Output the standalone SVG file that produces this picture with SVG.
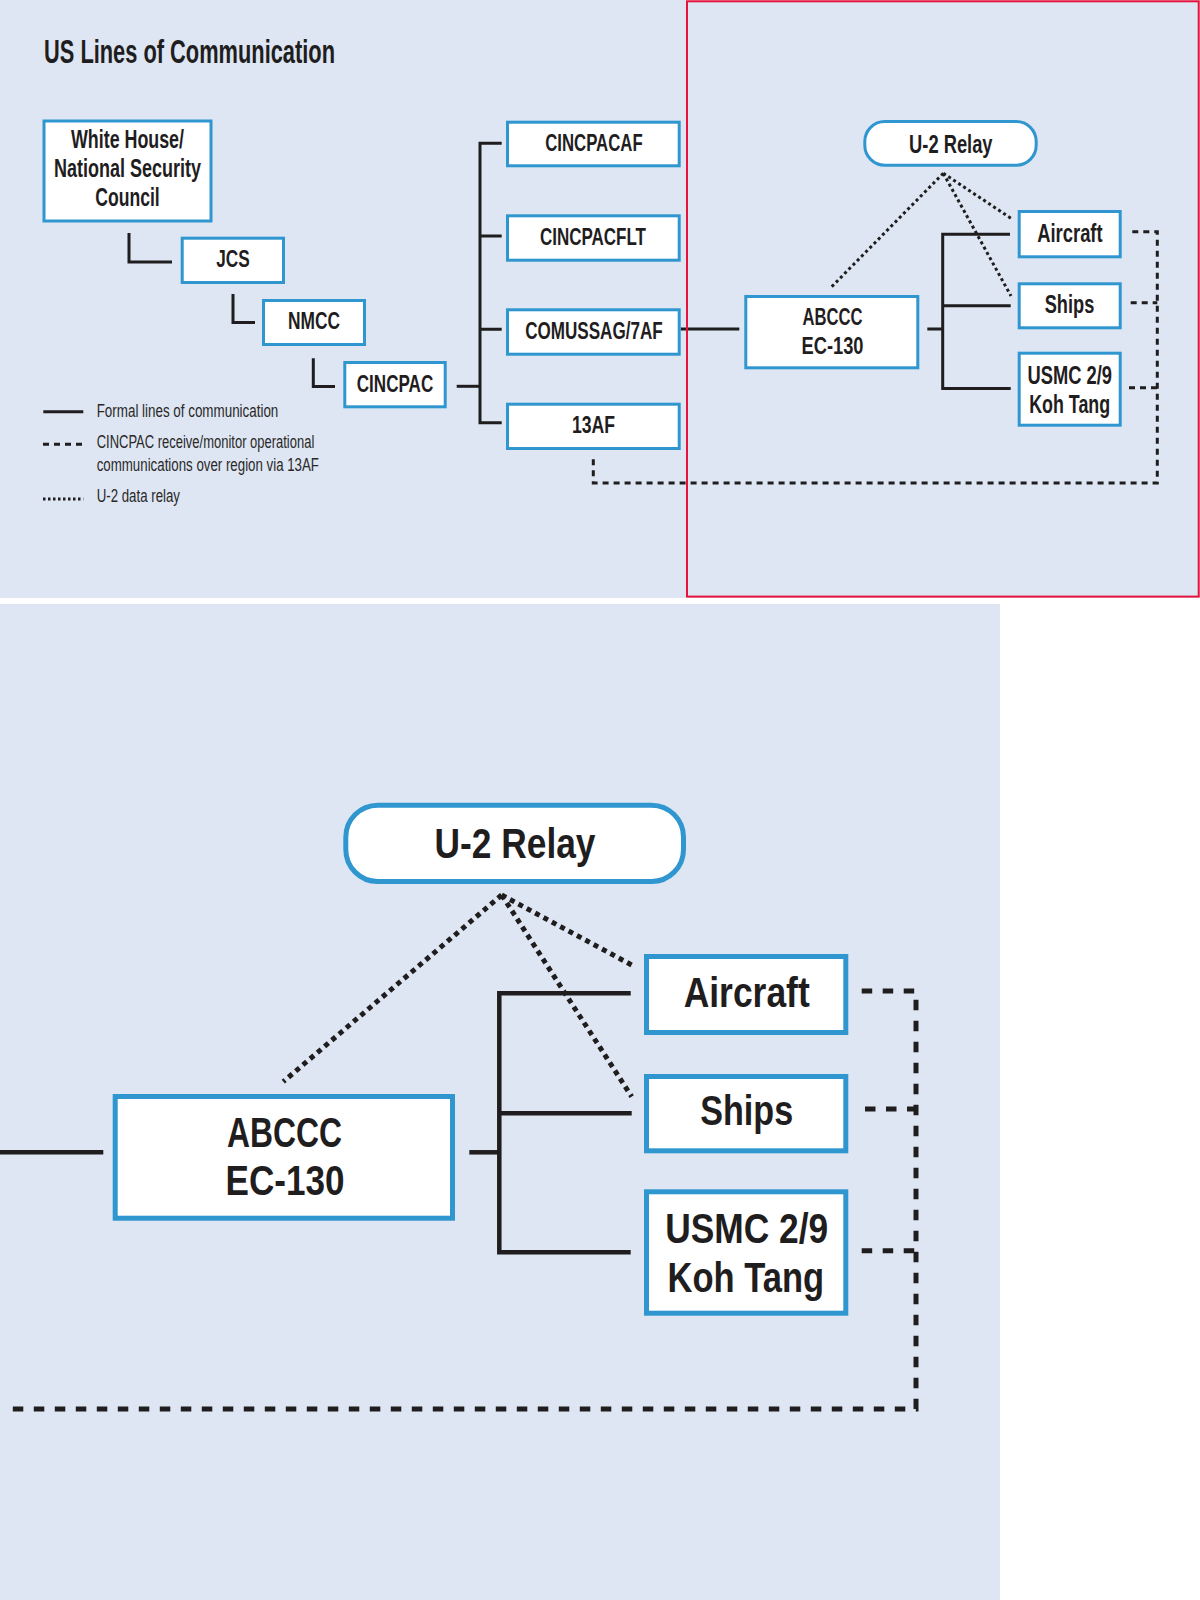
<svg xmlns="http://www.w3.org/2000/svg" width="1200" height="1600" viewBox="0 0 1200 1600">
<style>
.bg{fill:#dde6f2}
.box{fill:#fff;stroke:#2f96cf;stroke-width:3}
.boxL{fill:#fff;stroke:#2f96cf;stroke-width:5}
.t{font-family:"Liberation Sans Narrow","Liberation Sans",Arial,sans-serif;font-weight:bold;fill:#1f1d1e;text-anchor:middle}
.title{font-family:"Liberation Sans Narrow","Liberation Sans",Arial,sans-serif;font-weight:bold;fill:#1f1d1e;font-size:33px;text-anchor:start}
.s{font-size:24px}
.L{font-size:43px}
.lg{font-family:"Liberation Sans Narrow","Liberation Sans",Arial,sans-serif;font-size:17.5px;fill:#2a2829}
.solid{fill:none;stroke:#1f1d1e;stroke-width:3}
.dash{fill:none;stroke:#1f1d1e;stroke-width:3;stroke-dasharray:6 5}
.dot{fill:none;stroke:#1f1d1e;stroke-width:3;stroke-dasharray:3 3}
.solidL{fill:none;stroke:#1f1d1e;stroke-width:4.5}
.dashL{fill:none;stroke:#1f1d1e;stroke-width:5;stroke-dasharray:10.5 10.5}
.dotL{fill:none;stroke:#1f1d1e;stroke-width:5;stroke-dasharray:5 4.5}
</style>
<rect x="0" y="0" width="1200" height="1600" fill="#fff"/>
<rect class="bg" x="0" y="0" width="1200" height="598"/>
<rect class="bg" x="0" y="604" width="1000" height="996"/>

<text class="title" x="44" y="63" textLength="291" lengthAdjust="spacingAndGlyphs">US Lines of Communication</text>

<g id="connectors">
  <path class="solid" d="M129,233 V262 H172"/>
  <path class="solid" d="M233,294 V322.5 H255"/>
  <path class="solid" d="M313.3,358.3 V386.5 H335"/>
  <path class="solid" d="M456.7,386.3 H480"/>
  <path class="solid" d="M501.7,143.3 H480 V422.7 H501.7 M480,236 H501.7 M480,329.3 H501.7"/>
  <path class="solid" d="M680.7,329 H739.3"/>
  <path class="solid" d="M927.3,329 H942.7"/>
  <path class="solid" d="M1010,234.3 H942.7 V388.5 H1010.7 M942.7,305.7 H1010.7"/>
  <path class="dash" d="M593.3,459.3 V483 H1157.3 V231.7 H1129"/>
  <path class="dash" d="M1130.7,302.7 H1157.3 M1129,387.7 H1157.3"/>
  <path class="dot" d="M943.3,173.3 L831.7,286.7 M943.3,173.3 L1011,218.3 M943.3,173.3 L1011,296"/>

  <path class="solidL" d="M0,1152.3 H103.3"/>
  <path class="solidL" d="M469.3,1152.3 H499.3"/>
  <path class="solidL" d="M630.7,993.3 H499.3 V1252.3 H630.7 M499.3,1113.3 H631.7"/>
  <path class="dotL" d="M501.7,895 L283.3,1081.7 M501.7,895 L631.7,965 M501.7,895 L631.7,1096.7"/>
  <path class="dashL" d="M861.7,991 H916 V1409 H9.3"/>
  <path class="dashL" d="M865,1109 H916 M861.7,1250.7 H916"/>
</g>

<g id="legend">
  <line class="solid" x1="43.3" y1="411.7" x2="83.3" y2="411.7"/>
  <text class="lg" x="96.7" y="416.7" textLength="181.6" lengthAdjust="spacingAndGlyphs">Formal lines of communication</text>
  <line class="dash" x1="43" y1="444.3" x2="82" y2="444.3"/>
  <text class="lg" x="96.7" y="448.3" textLength="217.6" lengthAdjust="spacingAndGlyphs">CINCPAC receive/monitor operational</text>
  <text class="lg" x="96.7" y="470.7" textLength="222.3" lengthAdjust="spacingAndGlyphs">communications over region via 13AF</text>
  <line x1="43" y1="499" x2="83.3" y2="499" stroke="#1f1d1e" stroke-width="3" stroke-dasharray="2.5 2.5"/>
  <text class="lg" x="96.7" y="501.7" textLength="83.3" lengthAdjust="spacingAndGlyphs">U-2 data relay</text>
</g>

<g id="node-whitehouse">
  <rect class="box" x="44" y="121" width="167" height="100"/>
  <text class="t" x="127.5" y="147.7" font-size="25" textLength="113" lengthAdjust="spacingAndGlyphs">White House/</text>
  <text class="t" x="127.5" y="176.7" font-size="25" textLength="147" lengthAdjust="spacingAndGlyphs">National Security</text>
  <text class="t" x="127.5" y="205.7" font-size="25" textLength="64.5" lengthAdjust="spacingAndGlyphs">Council</text>
</g>
<g id="node-jcs">
  <rect class="box" x="182.2" y="238.2" width="101.3" height="44.3"/>
  <text class="t s" x="233" y="267" textLength="33.5" lengthAdjust="spacingAndGlyphs">JCS</text>
</g>
<g id="node-nmcc">
  <rect class="box" x="263.5" y="300.5" width="101" height="44"/>
  <text class="t s" x="314" y="329.3" textLength="52" lengthAdjust="spacingAndGlyphs">NMCC</text>
</g>
<g id="node-cincpac">
  <rect class="box" x="344.8" y="362.5" width="100.4" height="44.3"/>
  <text class="t s" x="395" y="391.7" textLength="76.5" lengthAdjust="spacingAndGlyphs">CINCPAC</text>
</g>
<g id="node-cincpacaf">
  <rect class="box" x="507.5" y="122.2" width="171.7" height="43.6"/>
  <text class="t s" x="593.9" y="150.7" textLength="97.5" lengthAdjust="spacingAndGlyphs">CINCPACAF</text>
</g>
<g id="node-cincpacflt">
  <rect class="box" x="507.5" y="215.8" width="171.7" height="44.4"/>
  <text class="t s" x="593" y="245" textLength="106" lengthAdjust="spacingAndGlyphs">CINCPACFLT</text>
</g>
<g id="node-comussag">
  <rect class="box" x="507.5" y="309.8" width="171.7" height="44.4"/>
  <text class="t s" x="593.9" y="339.3" textLength="137.5" lengthAdjust="spacingAndGlyphs">COMUSSAG/7AF</text>
</g>
<g id="node-13af">
  <rect class="box" x="507.5" y="404.2" width="171.7" height="44.3"/>
  <text class="t s" x="593.4" y="433.3" textLength="43" lengthAdjust="spacingAndGlyphs">13AF</text>
</g>
<g id="node-u2relay">
  <rect class="box" x="864.8" y="121.5" width="171.4" height="43.7" rx="20"/>
  <text class="t" x="950.8" y="153.3" font-size="25" textLength="83.5" lengthAdjust="spacingAndGlyphs">U-2 Relay</text>
</g>
<g id="node-abccc">
  <rect class="box" x="745.8" y="296.5" width="172" height="71.3"/>
  <text class="t s" x="832.5" y="325" textLength="60" lengthAdjust="spacingAndGlyphs">ABCCC</text>
  <text class="t s" x="832.5" y="354" textLength="62" lengthAdjust="spacingAndGlyphs">EC-130</text>
</g>
<g id="node-aircraft">
  <rect class="box" x="1019.2" y="211.5" width="101" height="45.3"/>
  <text class="t" x="1069.9" y="241.7" font-size="25" textLength="65.5" lengthAdjust="spacingAndGlyphs">Aircraft</text>
</g>
<g id="node-ships">
  <rect class="box" x="1019.2" y="283.8" width="101" height="44"/>
  <text class="t" x="1069.5" y="313.3" font-size="25" textLength="49.5" lengthAdjust="spacingAndGlyphs">Ships</text>
</g>
<g id="node-usmc">
  <rect class="box" x="1019.2" y="353.2" width="101" height="72"/>
  <text class="t" x="1069.7" y="384" font-size="25" textLength="84.5" lengthAdjust="spacingAndGlyphs">USMC 2/9</text>
  <text class="t" x="1069.7" y="413" font-size="25" textLength="81" lengthAdjust="spacingAndGlyphs">Koh Tang</text>
</g>

<rect id="highlight" x="687" y="1.3" width="511.7" height="595.3" fill="none" stroke="#e8123c" stroke-width="2"/>

<g id="zoom-u2relay">
  <rect class="boxL" x="345.8" y="805.2" width="337.7" height="76.3" rx="32"/>
  <text class="t L" x="515" y="858.3" textLength="161" lengthAdjust="spacingAndGlyphs">U-2 Relay</text>
</g>
<g id="zoom-abccc">
  <rect class="boxL" x="115.2" y="1096.5" width="337.3" height="121.7"/>
  <text class="t L" x="284.5" y="1146.7" textLength="115" lengthAdjust="spacingAndGlyphs">ABCCC</text>
  <text class="t L" x="285" y="1195" textLength="119" lengthAdjust="spacingAndGlyphs">EC-130</text>
</g>
<g id="zoom-aircraft">
  <rect class="boxL" x="646.5" y="956.5" width="199.3" height="76"/>
  <text class="t L" x="746.7" y="1006.7" textLength="126" lengthAdjust="spacingAndGlyphs">Aircraft</text>
</g>
<g id="zoom-ships">
  <rect class="boxL" x="646.5" y="1076.5" width="199.3" height="74.3"/>
  <text class="t L" x="746.7" y="1125" textLength="93" lengthAdjust="spacingAndGlyphs">Ships</text>
</g>
<g id="zoom-usmc">
  <rect class="boxL" x="646.5" y="1191.8" width="199.3" height="121.4"/>
  <text class="t L" x="746.7" y="1243.3" textLength="163" lengthAdjust="spacingAndGlyphs">USMC 2/9</text>
  <text class="t L" x="745.8" y="1291.7" textLength="156.5" lengthAdjust="spacingAndGlyphs">Koh Tang</text>
</g>
</svg>
